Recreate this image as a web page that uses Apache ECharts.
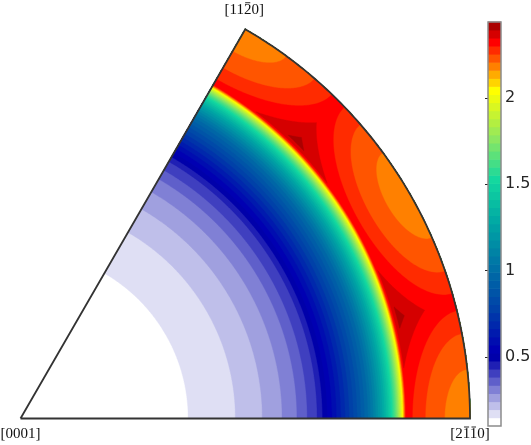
<!DOCTYPE html>
<html><head><meta charset="utf-8">
<script src="https://cdn.jsdelivr.net/npm/echarts@6/dist/echarts.min.js"></script>
<style>html,body{margin:0;padding:0;background:#fff}#c{width:531px;height:445px}</style>
</head><body><div id="c"></div>
<script>
// ---- contour levels (colour scale) ----
const contourLevels = [0.100,0.147,0.194,0.240,0.287,0.334,0.381,0.428,0.474,0.521,
  0.568,0.615,0.662,0.708,0.755,0.802,0.849,0.896,0.942,0.989,
  1.036,1.083,1.130,1.176,1.223,1.270,1.317,1.364,1.410,1.457,
  1.504,1.551,1.598,1.644,1.691,1.738,1.785,1.832,1.878,1.925,
  1.972,2.019,2.066,2.112,2.159,2.206,2.253,2.300,2.346,2.393,2.440];
// projected radius (0 = [0001], 1 = rim) where each level's radial contour lies
const ringRadius = [0,0.373,0.478,0.538,0.582,0.615,0.638,0.660,0.672,0.6825,
  0.6928,0.7029,0.7127,0.7222,0.7314,0.7403,0.7489,0.7572,0.7652,0.7729,
  0.779,0.7848,0.7903,0.7955,0.8004,0.805,0.8094,0.8135,0.8174,0.821,
  0.8244,0.8276,0.8306,0.8334,0.836,0.8384,0.8406,0.8426,0.8445,0.8463,
  0.848,0.8496,0.851,0.8523,0.8535,0.8547,0.8558,0.857,0.860,0.867];
// upper levels are also cut by circles around the rim directions (angular radius, deg)
const rimPoleAngles = [0, 30, 60];
const outerLevelIndex = [45, 46, 47, 48, 49];
const poleDistance = [6.3, 10.9, 13.9, 16.8, 19.5];
// colour map stops
const cmapValues = [0.100, 0.474, 0.520, 0.750, 1.000, 1.250, 1.500, 1.750, 2.019, 2.300, 2.440];
const cmapColors = ['#ffffff','#0000aa','#0000b2','#0040a8','#0072a6','#00a6a4','#12d8a0','#92e85e','#ffff00','#ff0000','#800000'];
// colorbar ticks
const colorbarTicks = [0.5, 1, 1.5, 2];
// corner labels (bars = indices of characters carrying an overbar)
const cornerLabels = [
  {r: 0, phi: 0, text: '[0001]', bars: [], dx: 0, dy: 16},
  {r: 1, phi: 0, text: '[2110]', bars: [2, 3], dx: 0, dy: 16},
  {r: 1, phi: 60, text: '[1120]', bars: [3], dx: -1, dy: -19}
];
const labelFont = {family: 'Liberation Serif', size: 15};

function hex(h){return [parseInt(h.slice(1,3),16),parseInt(h.slice(3,5),16),parseInt(h.slice(5,7),16)];}
function cmap(v){
  let i = 0;
  while (i < cmapValues.length - 2 && v > cmapValues[i+1]) i++;
  const t = Math.max(0, Math.min(1, (v - cmapValues[i]) / (cmapValues[i+1] - cmapValues[i])));
  const a = hex(cmapColors[i]), b = hex(cmapColors[i+1]);
  return 'rgb(' + a.map((x,j)=>Math.round(x + (b[j]-x)*t)).join(',') + ')';
}
const DEG = Math.PI/180;
// equal-area projection: polar angle (deg) -> radius
const proj = rho => Math.SQRT2 * Math.sin(rho*DEG/2);
function outerLimit(phi, D){
  if (!(D > 0)) return 1;
  let rmax = 1;
  const cD = Math.cos(D*DEG);
  for (const p of rimPoleAngles){
    const c = Math.cos((phi-p)*DEG);
    if (c <= 0) continue;
    const s = cD / c;
    if (s < 1) rmax = Math.min(rmax, proj(Math.asin(s)/DEG));
  }
  return rmax;
}
function poleDistFor(k){ const i = outerLevelIndex.indexOf(k); return i >= 0 ? poleDistance[i] : 0; }

const measureCtx = document.createElement('canvas').getContext('2d');
measureCtx.font = labelFont.size + 'px "' + labelFont.family + '"';
const textW = s => measureCtx.measureText(s).width;

const bands = ringRadius.map((r,k)=>[r, 0, k]);
const barSteps = contourLevels.slice(0, -1).map((v,k)=>[0, v, k]);

const chart = echarts.init(document.getElementById('c'), null, {renderer:'canvas', width:531, height:445});
chart.setOption({
  animation: false,
  backgroundColor: '#ffffff',
  polar: {center: [20.5, 418.5], radius: 449.5},
  angleAxis: {type:'value', min:0, max:360, startAngle:0, clockwise:false, show:false,
    axisLine:{show:false}, axisTick:{show:false}, axisLabel:{show:false}, splitLine:{show:false}},
  radiusAxis: {type:'value', min:0, max:1, show:false,
    axisLine:{show:false}, axisTick:{show:false}, axisLabel:{show:false}, splitLine:{show:false}},
  grid: {left:488, top:22, width:13, height:404, outerBoundsMode:'none', containLabel:false},
  xAxis: {type:'value', min:0, max:1, show:false, gridIndex:0},
  yAxis: {type:'value', min:0.1, max:2.44, position:'right', gridIndex:0,
    axisLine:{show:false}, splitLine:{show:false},
    axisTick:{show:true, inside:true, length:3, customValues: colorbarTicks, lineStyle:{color:'#262626', width:1}},
    axisLabel:{customValues: colorbarTicks, margin:4, color:'#262626', fontFamily:'DejaVu Sans', fontSize:16}},
  series: [
    {
      type:'custom', coordinateSystem:'polar', polarIndex:0, data: bands, z: 2,
      renderItem: function(params, api){
        const k = api.value(2);
        const rIn = ringRadius[k];
        const D = poleDistFor(k);
        const color = cmap(contourLevels[k]);
        const runs = []; let cur = null;
        for (let i = 0; i <= 600; i++){
          const phi = i * 0.1;
          const rOut = outerLimit(phi, D);
          if (rOut > rIn){ if (!cur){ cur = []; runs.push(cur); } cur.push([phi, rOut]); }
          else cur = null;
        }
        const children = runs.map(run => {
          const pts = run.map(([phi, r]) => api.coord([r, phi]));
          for (let j = run.length-1; j >= 0; j--) pts.push(api.coord([rIn, run[j][0]]));
          return {type:'polygon', z2: k, shape:{points: pts}, style:{fill: color, stroke: color, lineWidth: 0.4}};
        });
        return {type:'group', children};
      }
    },
    {
      type:'custom', coordinateSystem:'polar', polarIndex:0, data: [[0,0]], z: 5,
      renderItem: function(params, api){
        const pts = [api.coord([0,0])];
        for (let i = 0; i <= 120; i++) pts.push(api.coord([1, i*0.5]));
        pts.push(api.coord([0,0]));
        const children = [{type:'polyline', shape:{points: pts}, style:{stroke:'#333333', lineWidth:1.8, fill:null, lineJoin:'miter'}}];
        cornerLabels.forEach(L => {
          const p = api.coord([L.r, L.phi]);
          const cx = p[0] + L.dx, cy = p[1] + L.dy;
          children.push({type:'text', x: cx, y: cy,
            style:{text: L.text, fill:'#111111', fontFamily: labelFont.family, fontSize: labelFont.size, align:'center', verticalAlign:'middle'}});
          const total = textW(L.text);
          const x0 = cx - total/2;
          L.bars.forEach(i => {
            const a = x0 + textW(L.text.slice(0, i)) + 1.2;
            const b = x0 + textW(L.text.slice(0, i+1)) - 1.2;
            children.push({type:'line', shape:{x1:a, y1:cy-7.5, x2:b, y2:cy-7.5}, style:{stroke:'#111111', lineWidth:0.9}});
          });
        });
        return {type:'group', children};
      }
    },
    {
      type:'custom', coordinateSystem:'cartesian2d', xAxisIndex:0, yAxisIndex:0, data: barSteps, z: 2,
      renderItem: function(params, api){
        const k = api.value(2);
        const p0 = api.coord([0, contourLevels[k]]);
        const p1 = api.coord([1, contourLevels[k+1]]);
        return {type:'rect', shape:{x:p0[0], y:p1[1]-0.3, width:p1[0]-p0[0], height:p0[1]-p1[1]+0.6},
          style:{fill: cmap(contourLevels[k])}};
      }
    },
    {
      type:'custom', coordinateSystem:'cartesian2d', xAxisIndex:0, yAxisIndex:0, data: [[0, 0.1]], z: 4,
      renderItem: function(params, api){
        const p0 = api.coord([0, contourLevels[0]]);
        const p1 = api.coord([1, contourLevels[contourLevels.length-1]]);
        return {type:'rect', shape:{x:p0[0], y:p1[1], width:p1[0]-p0[0], height:p0[1]-p1[1]},
          style:{fill:null, stroke:'#8c8c8c', lineWidth:1.5}};
      }
    }
  ]
});
</script></body></html>
